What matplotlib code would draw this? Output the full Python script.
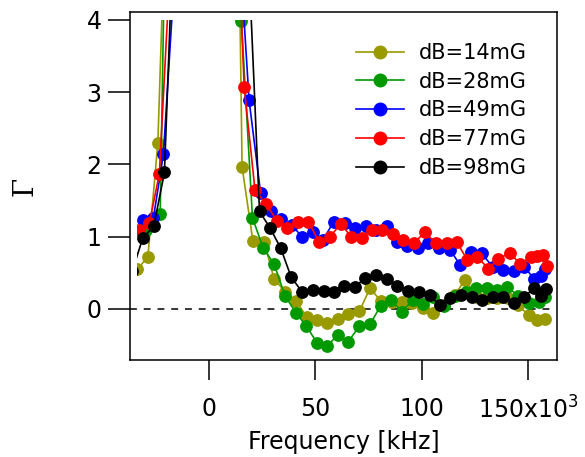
import matplotlib
matplotlib.use("Agg")
import matplotlib.pyplot as plt
from matplotlib.patches import Rectangle
from matplotlib.ticker import FuncFormatter

# frequency in kHz, gamma values
f_14 = [-33.8, -28.8, -24.1, -19.1, 10.5, 15.5, 20.6, 25.9, 30.5, 35.7, 40.9, 45.9, 50.6, 55.6,
        60.5, 65.5, 70.7, 75.7, 80.7, 85.9, 90.5, 95.5, 100.6, 105.5, 110.5, 115.5, 120.4,
        125.8, 130.5, 135.5, 140.7, 145.4, 150.4, 154.1, 158.0]
g_14 = [0.55, 0.72, 2.30, 6.85, 12.8, 1.97, 0.94, 0.93, 0.42, 0.24, 0.11, -0.11, -0.15, -0.19,
        -0.14, -0.07, -0.03, 0.29, 0.11, 0.10, 0.10, 0.08, 0.02, -0.06, 0.05, 0.20, 0.40,
        0.17, 0.15, 0.15, 0.15, 0.05, -0.09, -0.15, -0.14]

f_28 = [-29.6, -23.0, -18.0, 15.2, 20.4, 25.5, 30.6, 35.7, 40.8, 45.8, 50.8, 55.6, 60.5, 65.5,
        70.6, 75.7, 80.6, 85.5, 90.6, 95.8, 100.5, 105.5, 110.6, 115.5, 120.7, 125.5, 130.5,
        135.3, 140.2, 145.3, 150.4, 155.3, 158.0]
g_28 = [1.09, 1.32, 9.96, 3.98, 1.26, 0.84, 0.62, 0.18, -0.05, -0.24, -0.47, -0.51, -0.36, -0.45,
        -0.24, -0.21, 0.04, 0.13, -0.04, 0.12, 0.07, 0.17, 0.04, 0.18, 0.23, 0.29, 0.29,
        0.26, 0.31, 0.18, 0.08, 0.10, 0.17]

f_49 = [-31.2, -26.2, -21.5, -16.5, 13.8, 18.8, 24.2, 29.1, 33.8, 38.9, 43.7, 48.8, 53.7, 58.6,
        64.0, 68.6, 73.6, 78.5, 83.5, 88.4, 93.2, 98.4, 103.1, 108.3, 113.3, 118.0, 123.0,
        128.2, 133.4, 138.4, 143.4, 148.1, 152.9, 156.1, 158.0]
g_49 = [1.23, 1.26, 2.14, 4.5, 5.24, 2.89, 1.61, 1.36, 1.24, 1.16, 1.00, 1.07, 0.96, 1.21,
        1.19, 1.12, 1.15, 1.09, 1.15, 0.93, 0.87, 0.84, 0.91, 0.85, 0.82, 0.61, 0.79,
        0.77, 0.58, 0.54, 0.52, 0.58, 0.42, 0.46, 0.56]

f_77 = [-32.8, -28.1, -23.4, -18.4, 11.5, 16.5, 21.6, 26.9, 31.9, 36.6, 41.7, 46.7, 51.7, 56.9,
        61.9, 66.8, 71.8, 76.6, 81.4, 86.5, 91.3, 96.5, 101.5, 106.6, 111.7, 116.4, 121.4,
        126.1, 131.3, 136.0, 141.5, 146.2, 151.2, 154.0, 156.9, 159.0]
g_77 = [1.09, 1.19, 1.87, 4.7, 6.7, 3.07, 1.64, 1.45, 1.22, 1.12, 1.21, 1.21, 0.93, 1.00,
        1.18, 1.00, 0.98, 1.10, 1.10, 1.04, 0.96, 0.92, 1.06, 0.91, 0.92, 0.93, 0.68,
        0.72, 0.56, 0.69, 0.78, 0.62, 0.72, 0.73, 0.75, 0.60]

f_98 = [-36.2, -31.2, -26.0, -21.0, -16.0, 18.6, 23.7, 28.7, 33.7, 38.6, 43.9, 48.9, 53.9, 58.8,
        63.6, 68.6, 73.5, 78.5, 83.5, 88.5, 93.7, 98.8, 103.7, 108.6, 113.4, 118.5, 123.5,
        128.5, 133.4, 138.4, 143.5, 148.2, 152.9, 156.1, 158.4]
g_98 = [0.52, 0.98, 1.15, 1.89, 5.87, 4.85, 1.35, 1.12, 0.84, 0.44, 0.23, 0.26, 0.25, 0.24,
        0.32, 0.31, 0.43, 0.47, 0.42, 0.32, 0.25, 0.23, 0.19, 0.05, 0.15, 0.20, 0.17,
        0.12, 0.16, 0.17, 0.08, 0.17, 0.29, 0.18, 0.28]

labels = ["dB=14mG", "dB=28mG", "dB=49mG", "dB=77mG", "dB=98mG"]
colors = ["#999900", "#009900", "#0000ff", "#ff0000", "#000000"]
freqs = [f_14, f_28, f_49, f_77, f_98]
gammas = [g_14, g_28, g_49, g_77, g_98]

plt.rcParams["font.family"] = "DejaVu Sans"

fig = plt.figure(figsize=(5.85, 4.57), dpi=100)
ax = fig.add_axes([130/585, 97/457, 427/585, 348/457])
ax.set_xlim(-37.2, 163.6)
ax.set_ylim(-0.706, 4.11)

# igor-style plot area is a bit smaller than the frame
clip = Rectangle((-34.0, -0.706), 200, 4.706, transform=ax.transData,
                 facecolor="none", edgecolor="none")
ax.add_patch(clip)

ax.axhline(0, color="black", lw=1.1, ls=(0, (4.5, 4.5)), xmax=0.99)

for f, g, c, lab in zip(freqs, gammas, colors, labels):
    ln, = ax.plot(f, g, "-o", color=c, lw=1.2, ms=8.2, mec=c, label=lab)
    ln.set_clip_path(clip)

for s in ax.spines.values():
    s.set_linewidth(1.1)

ax.set_yticks([0, 1, 2, 3, 4])
ax.set_xticks([0, 50, 100, 150])
ax.xaxis.set_major_formatter(FuncFormatter(
    lambda v, p: "150x10$^3$" if v == 150 else "%d" % v))
ax.tick_params(axis="y", direction="out", length=15.5, width=1.1, pad=5, labelsize=17)
ax.tick_params(axis="x", direction="out", length=14.5, width=1.1, pad=12, labelsize=17)

ax.set_xlabel("Frequency [kHz]", fontsize=17, labelpad=4)
ax.set_ylabel("Γ", fontsize=20, family="DejaVu Serif")
ax.yaxis.set_label_coords(-0.214, 0.5)

ax.legend(loc="upper left", bbox_to_anchor=(356/585, 1 - 43/457),
          bbox_transform=fig.transFigure, frameon=False, fontsize=15,
          handlelength=2.3, handletextpad=0.7, labelspacing=0.42,
          borderpad=0, borderaxespad=0, markerscale=1.1)

fig.savefig("out.png", dpi=100)
